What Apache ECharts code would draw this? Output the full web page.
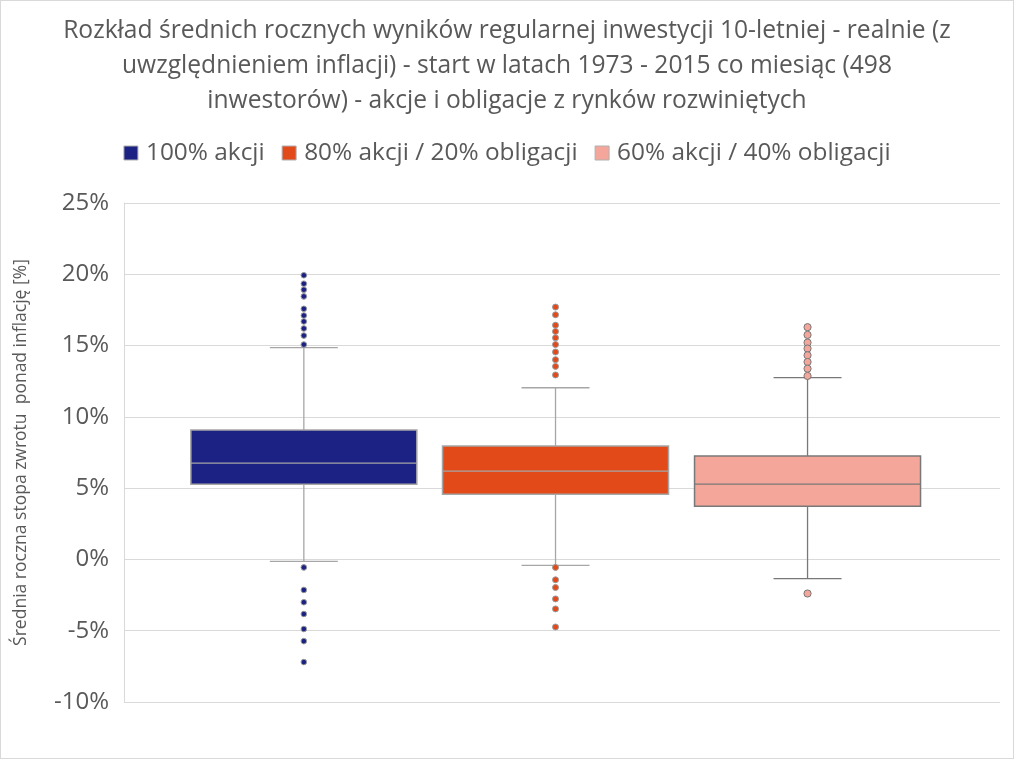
<!DOCTYPE html>
<html>
<head>
<meta charset="utf-8">
<script src="https://cdn.jsdelivr.net/npm/echarts@6/dist/echarts.min.js"></script>
<style>
html,body{margin:0;padding:0;background:#fff;}
#wrap{position:absolute;left:0;top:0;width:1012px;height:757px;border:1px solid #d9d9d9;}
#chart{width:1012px;height:757px;}
</style>
</head>
<body>
<div id="wrap"><div id="chart"></div></div>
<script>
// ---- data (values in %) ----
var seriesNames = ['100% akcji', '80% akcji / 20% obligacji', '60% akcji / 40% obligacji'];
// [lower whisker, Q1, median, Q3, upper whisker]
var box100 = [-0.14, 5.28, 6.76, 9.08, 14.86];
var box80  = [-0.42, 4.58, 6.20, 7.96, 12.04];
var box60  = [-1.34, 3.73, 5.28, 7.25, 12.75];
var outliers100 = [19.93, 19.34, 18.92, 18.45, 17.58, 17.11, 16.69, 16.20, 15.70, 15.07,
                   -0.56, -2.14, -3.00, -3.83, -4.88, -5.73, -7.20];
var outliers80  = [17.70, 17.16, 16.43, 15.99, 15.54, 15.07, 14.55, 14.01, 13.54, 12.94,
                   -0.56, -1.43, -1.97, -2.77, -3.47, -4.74];
var outliers60  = [16.29, 15.75, 15.21, 14.79, 14.32, 13.85, 13.38, 12.87, -2.39];
var yTicks = [-10, -5, 0, 5, 10, 15, 20, 25];

// ---- styles / layout ----
var FONT = 'Open Sans';
var fills = ['#1b2283', '#e34a1a', '#f4a69b'];
var strokes = ['#a6a6a6', '#a6a6a6', '#787878'];
var dotStroke = ['#9a9a9a', '#9a9a9a', '#777777'];
var dotR = [2.8, 3.0, 3.6];
var offsets = [-0.2947, -0.0074, 0.2803]; // fraction of band width
var boxFrac = 0.258, capFrac = 0.0776;

var boxes = [box100, box80, box60];
var outs = [outliers100, outliers80, outliers60];

function makeRender(idx) {
  return function (params, api) {
    var band = api.size([1, 0])[0];
    var cx = api.coord([0, 0])[0] + band * offsets[idx];
    var bw = band * boxFrac, ch = band * capFrac / 2;
    var b = boxes[idx];
    var yLo = api.coord([0, b[0]])[1], yQ1 = api.coord([0, b[1]])[1],
        yMed = api.coord([0, b[2]])[1], yQ3 = api.coord([0, b[3]])[1],
        yHi = api.coord([0, b[4]])[1];
    var ls = {stroke: strokes[idx], lineWidth: 1.3, fill: null};
    var children = [
      {type: 'line', shape: {x1: cx, y1: yHi, x2: cx, y2: yQ3}, style: ls},
      {type: 'line', shape: {x1: cx, y1: yQ1, x2: cx, y2: yLo}, style: ls},
      {type: 'line', shape: {x1: cx - ch, y1: yHi, x2: cx + ch, y2: yHi}, style: ls},
      {type: 'line', shape: {x1: cx - ch, y1: yLo, x2: cx + ch, y2: yLo}, style: ls},
      {type: 'rect', shape: {x: cx - bw / 2, y: yQ3, width: bw, height: yQ1 - yQ3},
        style: {fill: fills[idx], stroke: strokes[idx], lineWidth: 1.5}},
      {type: 'line', shape: {x1: cx - bw / 2, y1: yMed, x2: cx + bw / 2, y2: yMed}, style: ls}
    ];
    outs[idx].forEach(function (v) {
      var p = api.coord([0, v]);
      children.push({type: 'circle', shape: {cx: cx, cy: p[1], r: dotR[idx]},
        style: {fill: fills[idx], stroke: dotStroke[idx], lineWidth: 1}});
    });
    return {type: 'group', children: children};
  };
}

var chart = echarts.init(document.getElementById('chart'));
var series = seriesNames.map(function (name, i) {
  return {
    name: name,
    type: 'custom',
    renderItem: makeRender(i),
    itemStyle: {color: fills[i], borderColor: strokes[i], borderWidth: 1},
    encode: {x: 0, y: [1, 2, 3, 4, 5]},
    data: [[0].concat(boxes[i])],
    silent: true
  };
});

chart.setOption({
  animation: false,
  textStyle: {fontFamily: FONT},
  title: {
    text: 'Rozkład średnich rocznych wyników regularnej inwestycji 10-letniej - realnie (z\nuwzględnieniem inflacji) - start w latach 1973 - 2015 co miesiąc (498\ninwestorów) - akcje i obligacje z rynków rozwiniętych',
    left: 'center',
    top: 7,
    textStyle: {fontFamily: FONT, fontSize: 24.6, fontWeight: 'normal', color: '#595959', lineHeight: 35}
  },
  legend: {
    top: 135,
    left: 'center',
    icon: 'rect',
    itemWidth: 14,
    itemHeight: 14,
    itemGap: 17,
    textStyle: {fontFamily: FONT, fontSize: 24.4, color: '#595959', padding: [0, 0, 0, 3]},
    data: seriesNames.map(function (n, i) {
      return {name: n, itemStyle: {color: fills[i], borderColor: '#b0b0b0', borderWidth: 1}};
    })
  },
  grid: {left: 123, right: 13, top: 202, bottom: 56},
  xAxis: {
    type: 'category',
    data: [''],
    axisLine: {show: false},
    axisTick: {show: false},
    axisLabel: {show: false}
  },
  yAxis: {
    type: 'value',
    min: yTicks[0],
    max: yTicks[yTicks.length - 1],
    interval: 5,
    name: 'Średnia roczna stopa zwrotu  ponad inflację [%]',
    nameLocation: 'middle',
    nameGap: 94,
    nameTextStyle: {fontFamily: FONT, fontSize: 17.5, color: '#595959'},
    axisLine: {show: true, lineStyle: {color: '#d9d9d9', width: 1}},
    axisTick: {show: false},
    axisLabel: {formatter: '{value}%', fontFamily: FONT, fontSize: 24, color: '#595959', margin: 15},
    splitLine: {lineStyle: {color: '#d9d9d9', width: 1}}
  },
  series: series
});
</script>
</body>
</html>
